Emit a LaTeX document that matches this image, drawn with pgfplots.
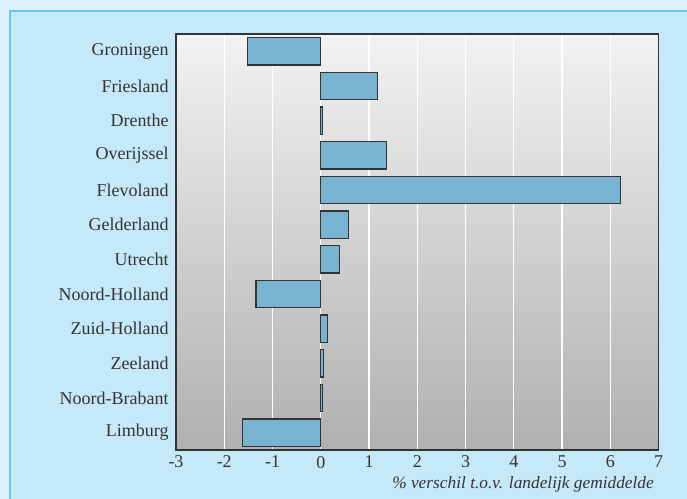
\documentclass[border=0pt]{standalone}
\usepackage{fontspec}
\setmainfont{Liberation Serif}
\usepackage{pgfplots}
\pgfplotsset{compat=1.18}
\definecolor{outerbg}{HTML}{DCF2FC}
\definecolor{innerbg}{HTML}{C6E9F9}
\definecolor{framecol}{HTML}{5DCAF2}
\definecolor{barfill}{HTML}{78B4D2}
\definecolor{txt}{HTML}{333333}
\begin{document}
\begin{tikzpicture}[x=0.75pt,y=0.75pt]
\useasboundingbox (0,0) rectangle (687,499);
\fill[outerbg] (0,0) rectangle (687,499);
\fill[innerbg] (9.5,-5) rectangle (700,487.5);
\draw[framecol,line width=1.5pt] (9.5,-5) -- (9.5,487.5) -- (700,487.5);
\begin{axis}[
  at={(132pt,36.75pt)}, anchor=south west,
  width=361.9pt, height=312pt, scale only axis,
  xbar, bar width=0.79,
  xmin=-3, xmax=7, ymin=-0.5, ymax=11.5,
  y dir=reverse,
  ytick={0,...,11},
  yticklabels={Groningen,Friesland,Drenthe,Overijssel,Flevoland,Gelderland,Utrecht,Noord-Holland,Zuid-Holland,Zeeland,Noord-Brabant,Limburg},
  xtick={-3,...,7},
  xticklabels={-3,-2,-1,0,1,2,3,4,5,6,7},
  major tick length=0pt,
  xmajorgrids, grid style={white,line width=0.9pt},
  axis line style={draw=txt,line width=1.2pt},
  axis background/.style={top color=black!5,bottom color=black!31},
  tick label style={font=\fontsize{13.5}{15}\selectfont,text=txt},
  yticklabel style={xshift=-2pt},
  xticklabel style={yshift=-1pt},
  xlabel={\itshape \% verschil t.o.v. landelijk gemiddelde},
  xlabel style={font=\fontsize{13}{15}\selectfont,text=txt,at={(axis description cs:1,0)},anchor=north east,yshift=-16pt},
]
\addplot[fill=barfill,draw=txt,line width=0.9pt] coordinates {
(-1.52,0) (1.17,1) (0.03,2) (1.37,3) (6.22,4) (0.58,5) (0.39,6) (-1.34,7) (0.14,8) (0.05,9) (0.04,10) (-1.62,11)};
\end{axis}
\end{tikzpicture}
\end{document}
